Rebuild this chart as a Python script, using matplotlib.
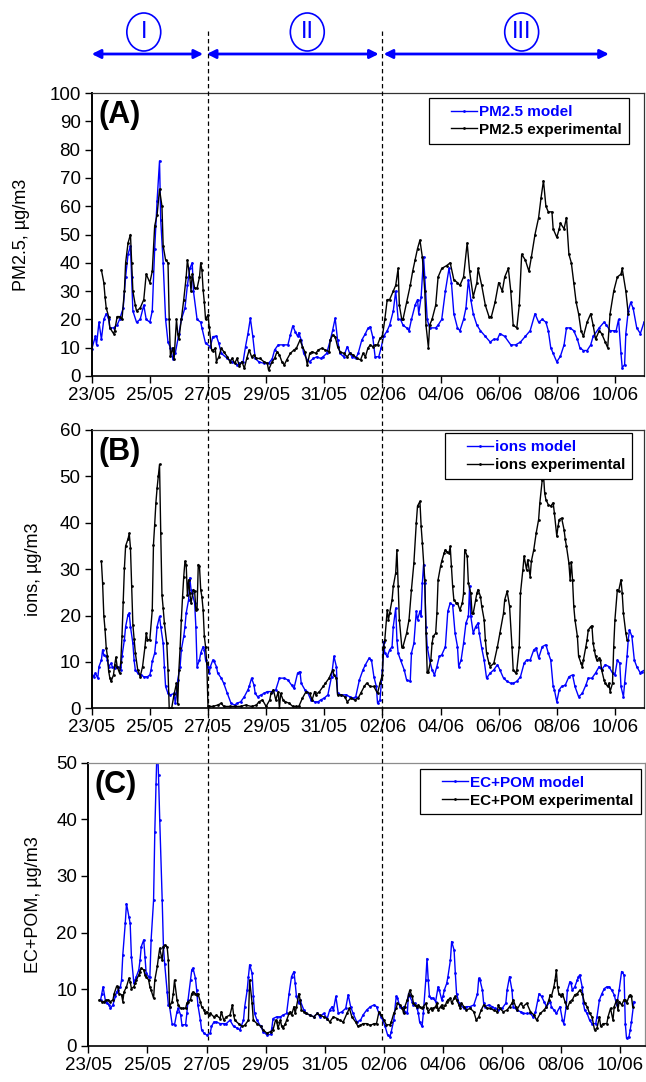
import matplotlib
matplotlib.use('Agg')
import matplotlib.pyplot as plt
import matplotlib.transforms as mtransforms
from matplotlib.lines import Line2D
from matplotlib.patches import Ellipse
from matplotlib.legend_handler import HandlerLine2D
import numpy as np

plt.rcParams['font.family'] = ['Liberation Sans', 'DejaVu Sans']

# x values are hours since 23/05 00:00
date_labels = ['23/05', '25/05', '27/05', '29/05', '31/05',
               '02/06', '04/06', '06/06', '08/06', '10/06']
phase_lines_h = [96, 240]
period_labels = ['I', 'II', 'III']
period_start_h = [0, 95, 241]
period_end_h = [92, 237, 427]
period_label_h = [43, 178, 355]

pm25_model = [(0,9.4),(3,14),(4,11),(6,19),(8,13),(10,20),(12,22),(14,20),(15,17),(18,17),(21,18),(23,20),(26,24),(28,35),(30,43),(32,46),(33,35),(34,23),(37,19),(40,20),(43,25),(45,20),(48,19),(50,23),(52,45),(54,62),(56,76),(57,55),(59,40),(61,20),(63,12),(65,10),(67,6),(69,8),(72,15),(74,20),(77,24),(79,32),(81,38),(83,40),(84,30),(87,20),(90,19),(91,17),(94,11.5),(98,10.4),(100,13.9),(103,14.1),(105,11.5),(107,8),(112,6.2),(116,5.1),(120,3.9),(122,4.5),(125,5),(127,10.4),(129,15),(131,20.4),(133,14),(135,6.2),(138,5),(142,4.5),(146,4.5),(149,6),(151,9.2),(154,11),(158,11),(162,11),(164,14.5),(166,17.7),(168,15.7),(170,14),(171,15.3),(173,12.7),(175,8),(178,5.7),(180,5.1),(183,6.2),(186,6.8),(189,6.2),(191,6.8),(194,8),(197,12.7),(199,16.3),(201,20.4),(203,12.7),(205,8),(208,6.8),(211,10.4),(213,8),(215,6.8),(218,6.2),(220,8),(223,12.7),(226,15),(228,16.8),(230,17.4),(232,13.9),(234,6.8),(237,6.8),(239,10),(241,14),(244,16),(246,18),(249,23),(251,30),(253,20),(255,20),(257,18),(260,17),(262,16),(264,20),(267,25),(269,27),(270,22),(272,28),(274,42),(275,35),(277,20),(279,17),(284,17),(286,18),(289,20),(292,30),(295,38),(297,33),(299,22),(302,17),(304,16),(307,20),(309,24),(311,34),(313,27),(315,22),(318,18),(321,16),(325,14),(329,12),(332,13),(335,13),(337,15),(341,14),(346,11),(350,11),(354,12),(358,14),(362,16),(366,22),(369,19),(372,20),(375,19),(377,16),(379,10),(381,8),(384,5),(387,7),(390,11),(392,17),(395,17),(398,16),(401,13),(403,10),(406,9),(409,9),(412,11),(414,14),(419,17),(423,19),(425,18),(428,16),(431,16),(433,16),(435,20),(437,8),(438,3),(440,4),(441,15),(443,23),(445,26),(447,24),(450,17),(453,15),(456,19)]

pm25_exp = [(8,37.5),(10,33),(11,28),(12,24),(14,21),(15,17),(18,15),(19,16),(21,21),(23,21),(25,20),(27,30),(28,40),(30,47),(32,50),(33,40),(34,30),(36,25),(37,23),(40,24),(43,27),(45,36),(48,33),(50,37),(52,53),(54,57),(56,66),(58,60),(59,46),(61,41),(63,40),(64,20),(65,7),(67,10),(68,6),(70,20),(71,15),(72,13),(74,20),(76,27),(78,35),(79,41),(81,35),(82,30),(83,36),(85,31),(87,31),(89,35),(90,40),(91,37.5),(92,30.4),(93,26),(94,20),(96,21.6),(97,17.4),(99,9.2),(100,9),(102,9.8),(103,5.1),(105,6.8),(107,9.8),(109,8.6),(112,6.8),(114,5.1),(116,6.2),(118,4.5),(120,6.2),(122,3.5),(124,5.1),(126,2.7),(128,6.2),(130,9.2),(132,6.8),(134,7.4),(136,6.2),(139,6.2),(142,5.1),(145,4.5),(146,2.1),(149,5.1),(151,6.2),(153,8.6),(155,7.4),(157,5.1),(159,3.9),(161,5.7),(164,8),(167,9.2),(169,9.8),(172,12.7),(174,10.4),(176,8.6),(178,3.9),(180,8),(182,8.6),(185,8),(187,9.2),(190,9.8),(193,9.2),(196,8.6),(197,12.7),(199,14.5),(201,13.9),(203,10.4),(205,8.6),(208,8),(211,6.8),(213,8),(216,7.4),(219,6.2),(222,5.7),(224,8),(226,6.8),(228,9.8),(230,11),(232,10.4),(234,11),(236,11),(238,13.3),(240,14),(242,20),(244,27),(246,27),(249,30),(251,32),(253,38),(254,25),(256,20),(257,20),(260,26),(263,32),(265,37),(267,41),(269,45),(271,48),(273,42),(275,30),(276,18),(278,10),(279,18),(281,20),(284,25),(286,35),(289,38),(293,39),(296,40),(299,34),(302,33),(304,32),(307,35),(310,47),(312,37),(315,28),(318,33),(319,38),(322,32),(325,25),(328,21),(330,21),(333,26),(336,33),(339,30),(341,35),(344,38),(346,30),(348,18),(351,17),(353,25),(355,43),(358,41),(361,37),(363,42),(366,50),(369,56),(371,63),(373,69),(375,60),(377,58),(380,58),(381,52),(384,49),(386,52),(387,54),(390,52),(392,56),(394,43),(396,40),(398,33),(400,26),(402,22),(404,16),(406,14),(409,19),(412,22),(414,18),(416,13),(419,16),(421,15),(424,12),(426,10),(428,22),(431,30),(434,35),(437,36),(438,38),(441,30),(443,22)]

ions_model = [(0,7.2),(2,6.8),(3,7.6),(5,6.5),(6,9),(8,10.4),(9,12.6),(10,11.5),(12,11.2),(13,10.4),(14,9),(16,9.7),(17,9),(19,8.6),(21,9),(23,8.8),(24,8.3),(25,11.2),(27,14.8),(28,17.6),(30,20.2),(31,20.5),(32,17.6),(34,14),(35,10.4),(36,8.3),(38,7.6),(41,7.2),(43,6.8),(46,6.8),(48,7.2),(49,8.3),(50,10.1),(52,11.9),(53,14.4),(54,17.6),(56,19.8),(57,17.6),(59,14),(60,9),(61,4.7),(63,3.2),(65,2.9),(68,3.2),(69,1.1),(70,3.2),(71,6.1),(73,9),(74,12.6),(76,15.5),(77,17.6),(78,20.5),(80,23.4),(81,28.1),(82,25.6),(83,24.8),(85,22.7),(86,17.6),(87,9),(89,10.4),(90,11.9),(92,13.3),(93,12.6),(94,10.4),(96,9),(97,7.6),(98,9),(100,10.4),(101,10.1),(103,9),(104,7.6),(107,6.5),(109,5.4),(112,3.2),(115,1.1),(118,0.7),(120,1.1),(123,1.4),(126,2.5),(129,4),(130,4.7),(132,6.5),(134,5),(135,3.2),(137,2.5),(140,2.9),(142,3.2),(145,3.6),(149,3.6),(152,4),(155,6.5),(159,6.5),(162,6.1),(165,5),(167,4.3),(170,7.6),(172,7.9),(173,5.4),(176,4),(178,3.6),(181,1.8),(184,1.4),(187,1.4),(189,1.8),(192,2.2),(195,2.9),(198,6.8),(200,11.2),(202,9),(203,3.2),(206,2.9),(210,2.9),(213,2.5),(216,2.2),(218,2.5),(221,6.1),(224,8.3),(226,9.4),(229,10.8),(231,10.4),(233,6.8),(235,4.7),(236,1.1),(238,1.8),(240,8.3),(241,14.4),(242,11.9),(244,11.2),(246,12.6),(248,13.3),(249,17.6),(251,21.6),(252,14.8),(253,11.9),(255,10.4),(258,8.3),(260,6.1),(263,5.8),(264,11.9),(266,14),(268,20.9),(269,19.1),(271,20.9),(272,19.8),(273,27),(274,31),(275,27),(276,17.6),(277,13.3),(279,10.4),(281,8.3),(283,7.2),(285,9),(287,11.2),(289,11.5),(292,13.3),(294,20.9),(296,22.7),(298,22.3),(300,16.2),(302,13.3),(303,9),(305,10.4),(307,14),(309,18.4),(311,19.8),(312,26.3),(313,19.8),(315,16.2),(317,17.6),(319,18.4),(320,16.2),(322,13),(324,10.4),(326,6.5),(329,7.6),(332,8.3),(335,9.4),(337,8.3),(340,6.5),(343,5.8),(346,5.4),(348,5.4),(351,5.8),(354,6.8),(357,9.7),(359,10.4),(362,10.4),(365,12.6),(367,13),(369,10.8),(372,13.3),(375,13.7),(377,11.9),(379,10.4),(381,4.7),(382,4),(384,1.4),(386,4),(388,4.7),(391,5),(394,6.8),(397,7.2),(399,4.7),(402,2.5),(405,3.2),(408,5),(410,6.5),(413,6.5),(416,7.6),(419,9),(421,8.3),(424,9.4),(427,9),(430,7.6),(432,7.2),(434,10.4),(436,9.7),(437,4.7),(439,2.5),(440,5.4),(442,11.2),(443,14.8),(444,16.9),(446,15.5),(448,10.4),(450,9),(453,7.6),(454,7.9),(457,8.3)]

ions_exp = [(8,31.7),(9,27),(10,20),(11,17),(12,13),(13,11.2),(14,8),(15,6.5),(16,5.8),(18,7.2),(19,9.4),(20,11),(21,9),(23,7.6),(24,10),(25,15.5),(26,23),(27,30.2),(28,35),(30,36.5),(31,37.7),(32,34.6),(33,26.3),(34,18),(35,15),(36,12),(38,8.3),(40,6.8),(42,9),(44,13.3),(45,16.2),(46,14.8),(48,14.8),(50,21.2),(51,35.3),(52,39.6),(53,44.3),(54,47.5),(55,50),(56,52.6),(57,37.8),(58,24.5),(59,21.6),(60,18.4),(62,14),(63,8.3),(64,0),(66,0),(68,3),(70,5.4),(71,1),(72,8.3),(73,13),(74,19),(75,24),(76,28.4),(77,31.7),(78,31),(79,24.5),(80,27.7),(81,24.8),(82,22.7),(84,25.6),(85,25.2),(86,21.2),(87,21.5),(88,31),(89,30.6),(90,25.6),(91,24),(92,21.2),(93,15.5),(94,13.3),(95,9.7),(96,0.5),(97,0.4),(100,0.4),(104,0.7),(107,1.1),(109,0.4),(114,0.4),(118,0.4),(123,0.4),(127,0.7),(132,0.4),(136,0.7),(138,1.4),(141,1.8),(144,0.4),(147,1.8),(148,3.2),(150,4),(152,1.8),(154,3.6),(155,0),(156,3.2),(158,1.8),(160,1.4),(163,1.1),(166,0.4),(169,0.4),(171,0.4),(174,2.2),(177,3.6),(180,3.2),(182,1.8),(184,3.6),(185,2.9),(188,3.6),(191,4.7),(193,5.4),(196,6.5),(199,8.3),(200,7.2),(202,6.5),(203,2.9),(206,2.9),(209,2.5),(211,1.4),(214,2.2),(217,1.8),(220,2.2),(222,3.2),(225,4.7),(227,5.4),(230,4.7),(233,4.7),(236,3.2),(238,5.4),(240,7.2),(241,13.3),(242,14.8),(244,21.2),(245,19.1),(246,20.5),(248,23.4),(249,26.3),(251,29.2),(252,34.2),(253,26.3),(254,19.1),(256,13.3),(257,13.3),(260,16.2),(262,19.1),(264,25.6),(266,31.3),(268,40),(269,43.6),(271,44.6),(272,39.2),(273,35.6),(275,27.7),(276,16.2),(277,7.9),(278,7.9),(280,10.4),(281,14),(282,15.5),(284,16.2),(285,20.5),(286,27.7),(288,30.6),(289,31.7),(291,33.5),(292,34.2),(293,33.8),(295,33.5),(296,34.9),(297,30.6),(298,26.3),(299,23.4),(301,22.7),(302,22.7),(304,21.2),(306,22.7),(307,24.8),(308,34.2),(310,32.8),(311,27),(313,24.8),(314,20.5),(315,20.5),(317,23.4),(318,24.8),(319,25.6),(321,24.1),(322,22),(324,19.1),(325,14.8),(326,11.9),(328,9.7),(329,9),(332,9.7),(335,13.3),(337,16.2),(340,20.5),(341,23.4),(343,25.2),(345,22),(347,13.3),(348,8.3),(350,7.6),(351,8.3),(353,13.3),(354,24.8),(356,29.9),(357,32.8),(359,29.9),(360,32),(362,28.4),(363,31.7),(365,34.2),(367,37.8),(369,40.7),(370,44.3),(372,49.3),(373,50.4),(374,46.4),(375,45),(377,43.9),(379,43.6),(381,44.3),(382,42.1),(384,37.1),(385,39.2),(386,40.7),(388,41),(390,38.5),(391,36.4),(392,34.9),(394,31.3),(395,27.7),(396,31.5),(397,27.7),(398,22),(399,19.1),(401,15.5),(402,11.2),(404,9.7),(405,9),(406,10.4),(408,13.3),(409,14.8),(410,16.9),(412,17.6),(413,17.8),(414,14),(415,12.6),(416,11.2),(417,10.4),(419,10.8),(420,10.4),(421,8.3),(423,6.1),(424,5.4),(426,4.7),(427,5.4),(428,3.6),(430,5.4),(431,13.3),(432,19.1),(434,25.6),(435,25.2),(437,27.7),(438,24.8),(439,20.5),(441,16.2),(442,14.8)]

ecpom_model = [(10,8.1),(11,9.2),(12,10.4),(14,7.8),(15,7.5),(17,7.2),(18,6.6),(20,7.2),(22,8.7),(23,9.5),(24,9.8),(26,10.4),(27,11.6),(28,16),(30,21.6),(31,25.1),(33,22.8),(34,21.6),(35,15.7),(37,11),(38,11.6),(39,12.2),(41,13.4),(42,15.1),(43,17.5),(45,18.7),(46,15.7),(47,12.8),(49,12.2),(50,12.2),(51,18.7),(53,25.7),(54,37.8),(55,46.3),(56,54),(57,47.8),(58,39.9),(60,25.7),(61,17.5),(62,14.5),(64,9.5),(65,7.2),(66,6.9),(68,3.9),(70,3.7),(72,6),(73,6.6),(75,5.4),(76,3.7),(79,3.7),(80,5.7),(81,8.1),(83,11.6),(84,13.4),(85,13.7),(87,11.9),(88,9.8),(89,7.2),(91,4.5),(92,2.8),(94,2.2),(96,1.9),(99,2.2),(100,3.4),(102,4.2),(104,4.2),(107,3.9),(110,3.9),(112,3.9),(115,4.5),(118,3.4),(121,3.1),(123,2.8),(126,4.5),(127,6.9),(129,9.8),(130,12.2),(131,14.3),(133,12.8),(134,8.7),(135,5.7),(137,4.5),(140,3.4),(142,2.5),(145,1.9),(148,2),(149,3.1),(150,4.8),(153,5.1),(156,5.1),(158,5.4),(161,5.7),(163,9.2),(165,12.2),(167,13.1),(168,11),(169,8.7),(171,7.5),(172,8),(175,6.3),(177,5.7),(180,5.4),(183,5.1),(186,5.7),(188,5.1),(191,5.7),(194,4.8),(196,6.3),(198,6.9),(199,6.3),(201,8.7),(203,5.7),(206,6),(209,6.6),(211,9),(213,6.9),(215,5.7),(218,4.2),(221,4.5),(223,5.4),(226,6.3),(229,6.9),(232,7.2),(234,6.9),(236,5.7),(238,5.1),(239,4.5),(241,3.4),(243,1.9),(245,1.6),(246,2.5),(248,4.5),(250,8.7),(251,8.4),(253,6.9),(255,6.6),(256,6.9),(257,6),(259,5.7),(260,9.2),(261,8.7),(263,7.8),(264,7.2),(265,7.5),(267,6.6),(268,5.7),(269,4.2),(271,3.4),(272,5.7),(274,11.6),(275,15.4),(276,11.6),(277,8.7),(278,8.4),(280,8.4),(282,7.8),(284,10.4),(285,9.8),(287,8.1),(288,8.7),(289,9.8),(291,11),(292,12.2),(294,15.1),(295,18.4),(297,16.9),(298,12.8),(299,9.2),(301,7.5),(302,7.2),(305,6.6),(307,6.9),(310,6.9),(313,7.2),(316,9.2),(317,11.9),(318,11.6),(320,9.8),(321,7.5),(322,6.9),(325,7.2),(328,6.9),(330,6.6),(333,6.3),(336,6.6),(339,7.5),(340,9.8),(342,12.2),(344,9.8),(345,6.9),(348,6.3),(351,6),(353,5.7),(356,5.7),(359,5.7),(361,5.1),(363,5.9),(365,8.1),(366,9.2),(368,8.7),(370,7.8),(372,6.9),(375,7.8),(376,6.9),(378,6.3),(380,5.7),(383,6.9),(385,4.5),(386,3.9),(388,6.9),(389,9.8),(391,11.3),(392,11),(393,9.8),(395,10.4),(397,11.6),(398,12.2),(399,12.5),(401,10.4),(402,7.5),(403,6.3),(405,5.7),(407,4.5),(409,3.9),(412,3.9),(413,5.1),(415,8.1),(417,9.2),(419,10.1),(421,10.4),(423,10.4),(425,9.8),(427,9),(429,7.2),(431,9.8),(433,13.1),(435,12.5),(436,3.9),(437,1.3),(439,1.6),(440,2.8),(441,4.2),(443,7.8)]

ecpom_exp = [(9,8.1),(11,7.8),(13,7.8),(14,8),(16,8.1),(18,7.8),(20,8.1),(21,9.2),(23,10.5),(24,10.3),(25,9.2),(27,9),(28,7.8),(29,9.5),(31,10.4),(33,11.9),(34,11.3),(35,10.1),(37,10.4),(38,11),(39,11.6),(41,12.5),(42,13.1),(43,13.7),(45,13.4),(46,12.5),(47,12.2),(49,11.6),(50,10.4),(51,9.8),(53,8.4),(54,11.6),(56,14),(57,15.7),(58,17.2),(60,15.1),(61,17.5),(62,17.8),(64,17.5),(65,15.1),(66,6.9),(68,7.8),(69,9.2),(70,11.6),(72,8.1),(73,7.2),(75,6.6),(77,6.6),(79,6.6),(80,7.5),(81,7.8),(83,8.1),(84,9.2),(85,9.5),(87,9.2),(88,9),(89,9.2),(91,7.8),(92,6.9),(94,6.3),(95,5.7),(96,6),(98,5.4),(99,5.7),(102,5.1),(104,5.4),(107,4.8),(108,6),(110,4.5),(112,5.1),(115,5.4),(117,7.2),(118,5.4),(119,4.5),(122,3.9),(125,3.4),(127,3.6),(130,4.5),(131,11.6),(133,7.5),(134,4.5),(137,3.9),(140,3.4),(142,2.8),(145,2.2),(148,2.5),(150,2.8),(152,4.5),(153,4.2),(154,3.1),(156,4.5),(157,3.4),(158,3.1),(160,3.9),(161,4.5),(163,5.7),(164,6),(165,5.4),(167,6.9),(168,5.7),(169,6.9),(171,9.2),(172,8.1),(173,6.3),(175,6),(177,5.7),(180,5.4),(183,5.1),(186,5.7),(188,5.4),(191,5.1),(194,4.8),(196,4.2),(199,5.1),(202,4.8),(204,4.5),(207,4.2),(210,5.7),(212,6.6),(214,5.1),(217,4.2),(219,3.4),(221,3.6),(223,3.9),(226,3.9),(229,3.6),(232,3.9),(234,3.9),(236,6),(238,5.4),(240,4.5),(242,3.7),(245,3.7),(246,4.2),(248,5.7),(250,6.6),(251,7.5),(253,7.2),(255,6.6),(256,5.7),(257,6.9),(259,8.1),(260,9),(261,9.8),(263,8.7),(264,7.5),(265,7.2),(267,6.9),(268,7.2),(269,6.9),(271,6.6),(272,6.9),(274,7.5),(275,6.6),(276,6),(278,6.6),(279,6.3),(280,6.6),(282,6.9),(283,7.5),(284,6.3),(286,6.9),(287,7.2),(288,6.6),(290,7.2),(291,7.8),(292,8.1),(294,8.4),(295,7.5),(297,8.4),(298,8.7),(299,8.1),(301,7.2),(302,6.6),(303,7.5),(305,6.9),(307,6.3),(310,6.6),(313,6),(315,4.5),(317,5.1),(319,6.3),(321,7.2),(324,6.6),(326,6.6),(329,6.3),(332,6),(333,7.2),(334,6.6),(337,6),(340,6.3),(342,6.9),(344,7.5),(345,8.1),(347,6.9),(348,6.3),(351,7.5),(353,6.9),(356,7.5),(359,6),(362,5.4),(364,4.5),(367,5.7),(370,6.3),(372,6.9),(374,8.1),(375,9),(376,8.7),(378,10.4),(379,11.6),(380,13.4),(381,10.4),(382,9.2),(384,8.7),(385,9.2),(387,7.8),(389,6.6),(391,7.8),(393,8.1),(395,9),(397,9.2),(399,9.8),(401,9.2),(403,7.5),(405,6.9),(407,5.7),(409,5.1),(411,2.8),(413,3.1),(415,5.1),(416,3.4),(418,3.9),(421,3.9),(422,5.1),(424,6.6),(426,4.5),(427,6.9),(429,8.1),(430,6.3),(431,7.8),(433,7.2),(435,8.1),(436,8.1),(437,7.5),(439,8.7),(440,9),(441,8.7),(442,6.9)]

W, H = 646, 1082


def px_box(left, top, right, bottom):
    return [left / W, 1 - bottom / H, (right - left) / W, (bottom - top) / H]


fig = plt.figure(figsize=(W / 100, H / 100), dpi=100)

panels = [
    dict(box=px_box(91.7, 93, 644, 376), ymax=100, xmax=456, tag='(A)',
         ylabel='PM2.5, µg/m3', ylab_x=-0.112, name='PM2.5',
         model=pm25_model, exp=pm25_exp, leg=(0.973, 0.982), top_col='#333333'),
    dict(box=px_box(91.7, 430, 644, 708.3), ymax=60, xmax=456, tag='(B)',
         ylabel='ions, µg/m3', ylab_x=-0.09, name='ions',
         model=ions_model, exp=ions_exp, leg=(0.979, 0.988), top_col='#333333'),
    dict(box=px_box(88.3, 762.7, 645, 1045.7), ymax=50, xmax=452, tag='(C)',
         ylabel='EC+POM, µg/m3', ylab_x=-0.084, name='EC+POM',
         model=ecpom_model, exp=ecpom_exp, leg=(0.992, 0.978), top_col='#8c8c8c'),
]

axes = []
for p in panels:
    ax = fig.add_axes(p['box'])
    axes.append(ax)
    mh, mv = np.array(p['model']).T
    eh, ev = np.array(p['exp']).T
    ax.plot(mh, mv, color='#0000ff', lw=1.0, marker='o', ms=2.0, mew=0,
            label=p['name'] + ' model')
    ax.plot(eh, ev, color='black', lw=1.0, marker='o', ms=2.0, mew=0,
            label=p['name'] + ' experimental')
    ax.set_xlim(0, p['xmax'])
    ax.set_ylim(0, p['ymax'])
    ax.set_xticks(np.arange(len(date_labels)) * 48)
    ax.set_xticklabels(date_labels)
    ax.set_yticks(np.arange(0, p['ymax'] + 1, 10))
    ax.tick_params(direction='out', length=5, width=1, labelsize=13.5, pad=3)
    ax.spines['left'].set_linewidth(1.4)
    ax.spines['bottom'].set_linewidth(1.2)
    for s in ('top', 'right'):
        ax.spines[s].set_linewidth(0.9)
        ax.spines[s].set_color(p['top_col'])
    ax.set_ylabel(p['ylabel'], fontsize=13)
    ax.yaxis.set_label_coords(p['ylab_x'], 0.5)
    ax.text(0.012, 0.975, p['tag'], transform=ax.transAxes, va='top', ha='left',
            fontsize=22, fontweight='bold')
    hm = HandlerLine2D(numpoints=1, xpad=1.0)
    leg = ax.legend(loc='upper right', bbox_to_anchor=p['leg'], borderaxespad=0,
                    fancybox=False, edgecolor='black', framealpha=1,
                    prop={'weight': 'bold', 'size': 11}, handlelength=2.7,
                    handletextpad=0.15, borderpad=0.45, labelspacing=0.25,
                    handler_map={Line2D: hm})
    leg.get_frame().set_linewidth(0.9)
    leg.get_texts()[0].set_color('#0000ff')

# period markers above the top panel, placed on the time axis of panel A
axA = axes[0]
trans = mtransforms.blended_transform_factory(axA.transData, fig.transFigure)
for xh in phase_lines_h:
    fig.add_artist(Line2D([xh, xh], [1 - 31 / H, 1 - 1040 / H], transform=trans,
                          color='black', lw=0.9, linestyle=(0, (3.5, 2.5))))
arrow_y = 1 - 54 / H
circ_y = 1 - 32 / H
for lab, s, e, c in zip(period_labels, period_start_h, period_end_h, period_label_h):
    axA.annotate('', xy=(e, arrow_y), xytext=(s, arrow_y), xycoords=trans,
                 textcoords=trans, annotation_clip=False,
                 arrowprops=dict(arrowstyle='<|-|>', color='#0000ff', lw=2,
                                 mutation_scale=13, shrinkA=0, shrinkB=0))
    fig.add_artist(Ellipse((c, circ_y), width=28, height=38 / H, transform=trans,
                           fill=False, edgecolor='#0000ff', lw=1.2))
    fig.text(c, circ_y, lab, transform=trans, ha='center', va='center',
             color='#0000ff', fontsize=17)

fig.savefig('out.png', dpi=100)
